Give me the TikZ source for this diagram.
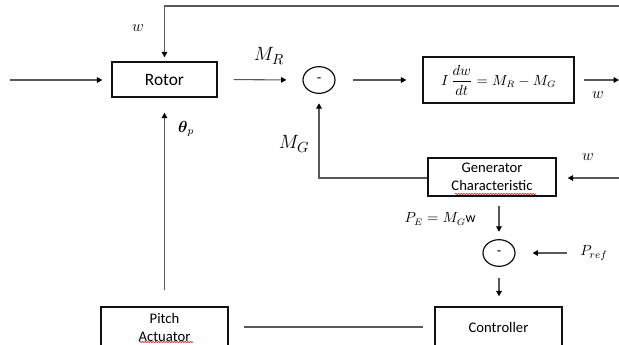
\documentclass[tikz,border=0pt]{standalone}
\usepackage{amsmath,amssymb}
\usepackage{fontspec}
\setmainfont{Carlito}
\usepackage{xcolor}
\usepackage{tikz}
\usetikzlibrary{calc,arrows.meta,positioning,shapes.geometric,decorations.pathmorphing}
\definecolor{linec}{HTML}{595959}
\definecolor{boxc}{HTML}{111111}
\tikzset{
  ar/.style={-{Triangle[length=4pt,width=4.2pt,color=black]},line width=0.8pt,linec},
  ln/.style={line width=0.8pt,linec},
  box/.style={draw=boxc,line width=1.1pt,align=center,inner sep=1pt,font=\fontsize{11}{13.5}\selectfont},
  sm/.style={ellipse,draw=boxc,line width=0.9pt,minimum width=24pt,minimum height=20pt,inner sep=0pt,font=\fontsize{11}{13}\selectfont},
  lb/.style={inner sep=0pt,font=\fontsize{11}{13}\selectfont},
  spell/.style={red!80!black,line width=0.4pt,decorate,decoration={snake,amplitude=0.45pt,segment length=2pt}}
}
\begin{document}
\begin{tikzpicture}[x=0.75pt,y=-0.75pt]
\path[use as bounding box,clip] (0,0) rectangle (619,344);
\node[box,minimum width=78.75pt,minimum height=26.25pt,font=\fontsize{13}{15}\selectfont] (rotor) at (164.5,79.5) {Rotor};
\node[box,minimum width=113.25pt,minimum height=34.5pt,font=\fontsize{10.5}{13}\selectfont] (dyn) at (498.5,80) {$I\,\dfrac{dw}{dt}=M_R-M_G$};
\node[box,minimum width=96pt,minimum height=28.5pt] (gen) at (492,177) {Generator\\Characteristic};
\node[box,minimum width=95.25pt,minimum height=30pt] (ctrl) at (498.5,327) {Controller};
\node[box,minimum width=95.25pt,minimum height=30pt] (pitch) at (164.5,327) {Pitch\\Actuator};
\node[sm] (sum1) at (319,80) {-};
\node[sm] (sum2) at (499,253) {-};
\node[lb,font=\fontsize{13}{15}\selectfont] (wtop) at (138,28) {$w$};
\node[lb,font=\fontsize{15}{18}\selectfont] (mr) at (269,56) {$M_R$};
\node[lb,font=\fontsize{15}{18}\selectfont] (mg) at (294,144) {$M_G$};
\node[lb,font=\fontsize{12}{14}\selectfont] (thp) at (186,129) {$\boldsymbol{\theta}_p$};
\node[lb,font=\fontsize{13}{15}\selectfont] (wo) at (598,95) {$w$};
\node[lb,font=\fontsize{13}{15}\selectfont] (wi) at (588,157) {$w$};
\node[lb,anchor=east,font=\fontsize{10.5}{13}\selectfont] (pe) at (476,219) {$P_E=M_G\mathrm{w}$};
\node[lb] (prefl) at (594,253) {$P_{ref}$};
\coordinate (in0) at (10,80);
\coordinate (topR) at (619,6);
\coordinate (wout) at (619,80);
\coordinate (win) at (619,178);
\draw[ar,shorten >=6.75pt] (in0) -- (in0 -| rotor.west);
\draw[ar,shorten >=3pt] (topR) -| (rotor.north);
\draw[ar,shorten <=12pt,shorten >=12pt] (rotor.east) -- (sum1.west);
\draw[ar,shorten <=12.75pt,shorten >=12pt] (sum1.east) -- (dyn.west);
\draw[ar,shorten <=6.75pt] (dyn.east) -- (wout);
\draw[ar,shorten >=8.25pt] (win) -- (gen.east |- win);
\draw[ar,shorten >=7pt] (gen.west |- win) -| (sum1.south);
\draw[ar,shorten <=6.75pt,shorten >=5.5pt] (gen.south -| sum2) -- (sum2.north);
\draw[ar,shorten <=9.75pt,shorten >=12.75pt] (prefl.west) -- (sum2.east);
\draw[ar,shorten <=8pt,shorten >=7.5pt] (sum2.south) -- (ctrl.north -| sum2);
\draw[ln,shorten <=8.25pt,shorten >=11.25pt] (ctrl.west) -- (pitch.east);
\draw[ar,shorten <=12pt,shorten >=11.25pt] (pitch.north) -- (rotor.south);
\draw[spell] (455,194) -- (536,194);
\draw[spell] (139,342) -- (193,342);
\end{tikzpicture}
\end{document}
